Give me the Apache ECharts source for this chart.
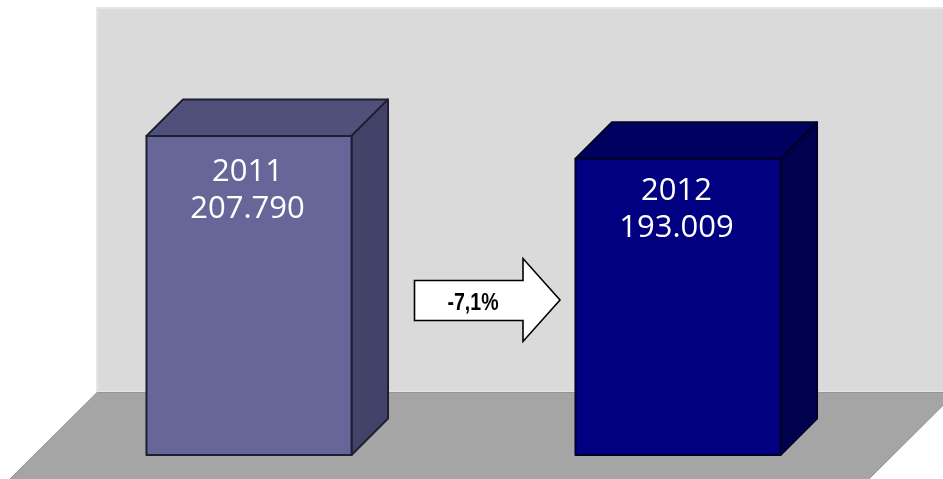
<!DOCTYPE html>
<html>
<head>
<meta charset="utf-8">
<style>html,body{margin:0;padding:0;background:#fff}#c{width:943px;height:479px}</style>
<script src="https://cdn.jsdelivr.net/npm/echarts@6/dist/echarts.min.js"></script>
</head>
<body>
<div id="c"></div>
<script>
const years = ['2011', '2012'];
const values = [207790, 193009];
const valueLabels = ['207.790', '193.009'];
const changeLabel = '-7,1%';

const frontColors = ['#666699', '#000080'];
const topColors = ['#50507A', '#000060'];
const sideColors = ['#43436A', '#00004F'];
const strokeColors = ['#1F1F33', '#00002A'];
const labelOffsets = [36, 32];
const DEPTH = 36.5;
const BAR_FRACTION = 0.478;

const chart = echarts.init(document.getElementById('c'), null, { renderer: 'canvas' });

function renderBar(params, api) {
  const i = params.dataIndex;
  const top = api.coord([api.value(0), api.value(1)]);
  const base = api.coord([api.value(0), 0]);
  const w = api.size([1, 0])[0] * BAR_FRACTION;
  const l = top[0] - w / 2, r = top[0] + w / 2, t = top[1], b = base[1];
  const stroke = { stroke: strokeColors[i], lineWidth: 2, lineJoin: 'round' };
  return {
    type: 'group',
    children: [
      { type: 'polygon', shape: { points: [[l, t], [l + DEPTH, t - DEPTH], [r + DEPTH, t - DEPTH], [r, t]] },
        style: Object.assign({ fill: topColors[i] }, stroke) },
      { type: 'polygon', shape: { points: [[r, t], [r + DEPTH, t - DEPTH], [r + DEPTH, b - DEPTH], [r, b]] },
        style: Object.assign({ fill: sideColors[i] }, stroke) },
      { type: 'rect', shape: { x: l, y: t, width: w, height: b - t },
        style: Object.assign({ fill: frontColors[i] }, stroke) },
      { type: 'text', x: top[0] - 1.5, y: t + labelOffsets[i],
        style: { text: years[i], fill: '#fff', font: '31px "Open Sans"', align: 'center', verticalAlign: 'middle' } },
      { type: 'text', x: top[0] - 1.5, y: t + labelOffsets[i] + 37,
        style: { text: valueLabels[i], fill: '#fff', font: '31px "Open Sans"', align: 'center', verticalAlign: 'middle' } }
    ]
  };
}

chart.setOption({
  animation: false,
  backgroundColor: '#fff',
  grid: { left: 34.5, width: 858, top: 0, bottom: 24 },
  xAxis: { type: 'category', data: years, show: false },
  yAxis: { type: 'value', min: 0, max: 296400, show: false },
  graphic: [
    { type: 'rect', z: 0, shape: { x: 97, y: 8, width: 860, height: 384 },
      style: { fill: '#DADADA', stroke: '#E6E6E6', lineWidth: 2 } },
    { type: 'polygon', z: 1, shape: { points: [[97, 392.5], [956, 392.5], [868, 480], [9, 480]] },
      style: { fill: '#A5A5A5', stroke: '#959595', lineWidth: 1 } },
    { type: 'polygon', z: 10,
      shape: { points: [[414.5, 280.5], [523, 280.5], [523, 258.5], [560, 300], [523, 341.5], [523, 320.5], [414.5, 320.5]] },
      style: { fill: '#fff', stroke: '#000', lineWidth: 1.6 } },
    { type: 'text', z: 11, x: 473, y: 304, scaleX: 0.85,
      style: { text: changeLabel, fill: '#000', font: 'bold 23px "Liberation Sans"', align: 'center', verticalAlign: 'middle' } }
  ],
  series: [{
    type: 'custom',
    z: 5,
    clip: false,
    renderItem: renderBar,
    encode: { x: 0, y: 1 },
    data: years.map((y, i) => [i, values[i]])
  }]
});
</script>
</body>
</html>
